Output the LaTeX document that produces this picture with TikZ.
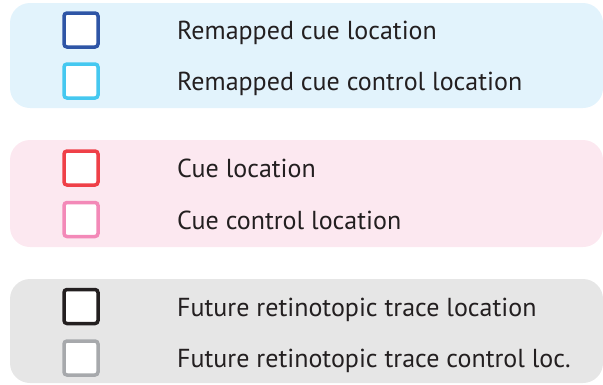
\documentclass[tikz,border=0pt]{standalone}
\usepackage{fontspec}
\setmainfont{PT Sans}
\definecolor{pblue}{HTML}{E2F3FC}
\definecolor{ppink}{HTML}{FCE8F0}
\definecolor{pgray}{HTML}{E6E6E6}
\definecolor{cblue}{HTML}{2E55A6}
\definecolor{ccyan}{HTML}{45C8F0}
\definecolor{cred}{HTML}{EF4048}
\definecolor{cpink}{HTML}{F389B8}
\definecolor{cblack}{HTML}{231F20}
\definecolor{cgray}{HTML}{A7A9AC}
\definecolor{ctext}{HTML}{231F20}
\begin{document}
\begin{tikzpicture}[x=1pt,y=-1pt,
  panel/.style={rounded corners=20pt},
  swatch/.style={draw=#1, line width=3.5pt, fill=white, rounded corners=3pt, minimum size=34pt, inner sep=0pt},
  lbl/.style={anchor=base west, inner sep=0pt, text=ctext, font=\fontsize{26}{30}\selectfont}]
\useasboundingbox (0,0) rectangle (603,384);
\fill[pblue,panel] (10,3) rectangle (603,108);
\fill[ppink,panel] (10,140) rectangle (603,247);
\fill[pgray,panel] (10,279) rectangle (603,383);
\node[swatch=cblue] (s1) at (81,30) {};
\node[swatch=ccyan] (s2) at (81,81) {};
\node[swatch=cred] (s3) at (81,168) {};
\node[swatch=cpink] (s4) at (81,219.5) {};
\node[swatch=cblack] (s5) at (81,306.5) {};
\node[swatch=cgray] (s6) at (81,358) {};
\node[lbl] (t1) at (177,39) {Remapped cue location};
\node[lbl] (t2) at (177,90.5) {Remapped cue control location};
\node[lbl] (t3) at (177,177.5) {Cue location};
\node[lbl] (t4) at (177,229) {Cue control location};
\node[lbl] (t5) at (177,316) {Future retinotopic trace location};
\node[lbl] (t6) at (177,367.5) {Future retinotopic trace control loc.};
\end{tikzpicture}
\end{document}
